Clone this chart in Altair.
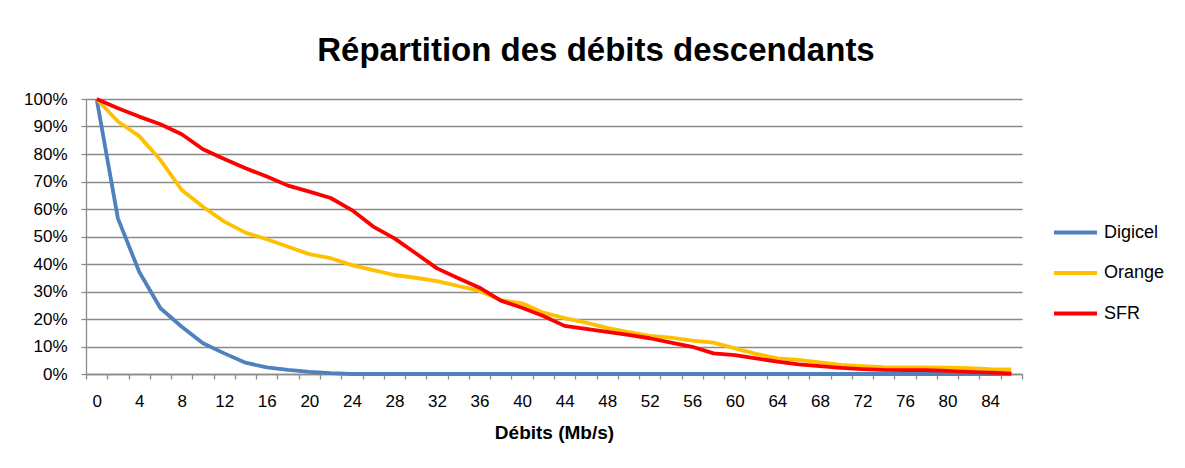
import altair as alt
import pandas as pd

debits = list(range(0, 88, 2))
digicel = [100, 56.6, 37.2, 23.9, 17.2, 11.2, 7.5, 4.1, 2.4, 1.5, 0.8, 0.3] + [0] * 32
orange = [100, 91.8, 86.5, 77.8, 66.9, 60.8, 55.4, 51.4, 49.0, 46.3, 43.6, 42.1,
          39.6, 37.8, 36.0, 35.0, 33.8, 32.0, 30.2, 26.9, 25.7, 22.3,
          20.3, 18.7, 16.8, 15.2, 13.9, 13.2, 12.1, 11.4, 9.3, 7.3, 5.7, 5.1, 4.2,
          3.3, 2.9, 2.5, 2.4, 2.4, 2.3, 2.1, 1.8, 1.7]
sfr = [100, 96.6, 93.6, 90.8, 87.2, 81.7, 78.2, 74.8, 71.8, 68.5, 66.3, 64.0,
       59.6, 53.6, 49.3, 43.9, 38.4, 34.8, 31.4, 26.7, 24.1, 21.1,
       17.5, 16.4, 15.3, 14.2, 13.0, 11.4, 9.9, 7.5, 6.9, 5.7, 4.5, 3.5, 2.9,
       2.2, 1.8, 1.5, 1.4, 1.4, 1.1, 0.8, 0.5, 0.2]
series = ["Digicel", "Orange", "SFR"]
colors = ["#4F81BD", "#FFC000", "#FF0000"]

rows = []
for name, vals in zip(series, [digicel, orange, sfr]):
    for i, (d, v) in enumerate(zip(debits, vals)):
        rows.append({"debit": d, "part": v / 100.0, "operateur": name, "ordre": series.index(name)})
df = pd.DataFrame(rows)

FONT = "Liberation Sans"
GRAY = "#8a8a8a"

x_axis = alt.Axis(
    values=list(range(-1, 88)),
    labelExpr="(datum.value % 4 == 0) ? datum.label : ''",
    labelOverlap=False,
    labelFlush=False,
    tickOpacity={"condition": {"test": "datum.value % 2 != 0", "value": 1}, "value": 0},
    tickSize=5,
    tickColor=GRAY,
    tickWidth=1.3,
    domainColor=GRAY,
    domainWidth=1.3,
    grid=False,
    labelFont=FONT,
    labelFontSize=17,
    labelColor="#000000",
    labelPadding=14,
    title="Débits (Mb/s)",
    titleFont=FONT,
    titleFontSize=19,
    titleFontWeight="bold",
    titleColor="#000000",
    titlePadding=14,
)

y_axis = alt.Axis(
    values=[i / 10 for i in range(11)],
    format=".0%",
    tickSize=5,
    tickColor=GRAY,
    tickWidth=1.3,
    domainColor=GRAY,
    domainWidth=1.3,
    gridColor=GRAY,
    gridWidth=1.3,
    labelFont=FONT,
    labelFontSize=17,
    labelColor="#000000",
    labelPadding=14,
    title=None,
)

chart = alt.Chart(df).mark_line(strokeWidth=3.8, strokeJoin="round").encode(
    x=alt.X("debit:Q", scale=alt.Scale(domain=[-1, 87], nice=False, zero=False), axis=x_axis),
    y=alt.Y("part:Q", scale=alt.Scale(domain=[0, 1], nice=False), axis=y_axis),
    color=alt.Color(
        "operateur:N",
        scale=alt.Scale(domain=series, range=colors),
        legend=alt.Legend(
            title=None,
            orient="none",
            legendX=966,
            legendY=110,
            symbolType="stroke",
            symbolSize=1849,
            symbolStrokeWidth=4,
            labelFont=FONT,
            labelFontSize=18,
            labelColor="#000000",
            rowPadding=7.5,
            labelOffset=5,
        ),
    ),
    order=alt.Order("ordre:Q"),
).properties(
    width=936,
    height=275,
    autosize=alt.AutoSizeParams(type="none"),
    padding={"left": 78, "top": 91, "right": 155, "bottom": 86},
    title=alt.TitleParams(
        "Répartition des débits descendants",
        font=FONT,
        fontSize=33,
        fontWeight="bold",
        color="#000000",
        anchor="middle",
        dx=42,
        offset=22,
    ),
).configure_view(stroke=None)

chart.save("out.html", embed_options={"renderer": "svg", "actions": False})
